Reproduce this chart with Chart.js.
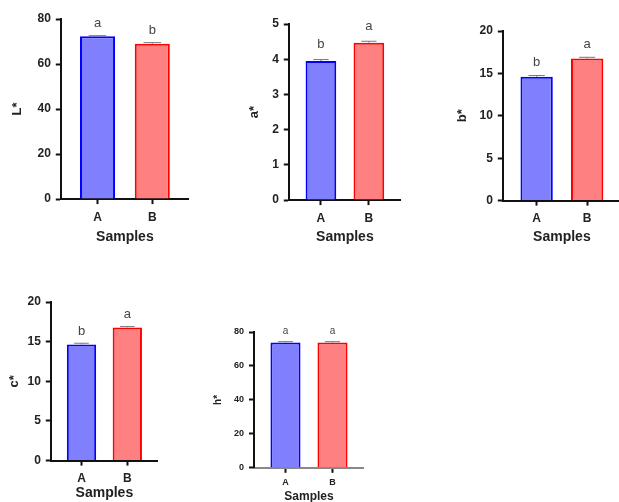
<!DOCTYPE html>
<html>
<head>
<meta charset="utf-8">
<script src="https://cdn.jsdelivr.net/npm/chart.js@4"></script>
<style>
  html, body { margin: 0; padding: 0; background: #fff; }
  body { width: 619px; height: 502px; position: relative; overflow: hidden; }
  canvas { position: absolute; }
</style>
</head>
<body>
<canvas id="cL"></canvas>
<canvas id="cA"></canvas>
<canvas id="cB"></canvas>
<canvas id="cC"></canvas>
<canvas id="cH"></canvas>
<script>
// categories
const samples = ['A', 'B'];

// means, error (small SD) and significance letters per parameter
const lValues = [72.3, 69.0];
const lErr = [0.3, 0.5];
const lSig = ['a', 'b'];

const aValues = [3.95, 4.47];
const aErr = [0.04, 0.04];
const aSig = ['b', 'a'];

const bValues = [14.6, 16.75];
const bErr = [0.15, 0.15];
const bSig = ['b', 'a'];

const cValues = [14.65, 16.8];
const cErr = [0.15, 0.1];
const cSig = ['b', 'a'];

const hValues = [73.8, 73.8];
const hErr = [0.5, 0.5];
const hSig = ['a', 'a'];

// y tick ranges: min, max, step
const lTicks = [0, 80, 20];
const aTicks = [0, 5, 1];
const bTicks = [0, 20, 5];
const cTicks = [0, 20, 5];
const hTicks = [0, 80, 20];

const FONT = "'Liberation Sans', Arial, sans-serif";

// error bars + letters drawn above each bar
const annotate = {
    id: 'annotate',
    afterDatasetsDraw(chart, args, opts) {
        const ctx = chart.ctx;
        const yScale = chart.scales.y;
        const meta = chart.getDatasetMeta(0);
        meta.data.forEach((bar, i) => {
            const top = yScale.getPixelForValue(opts.values[i] + opts.errors[i]);
            const half = bar.width * 0.25;
            ctx.save();
            ctx.strokeStyle = '#777';
            ctx.lineWidth = 1;
            ctx.beginPath();
            ctx.moveTo(bar.x, bar.y);
            ctx.lineTo(bar.x, top);
            ctx.moveTo(bar.x - half, top);
            ctx.lineTo(bar.x + half, top);
            ctx.stroke();
            ctx.fillStyle = '#444';
            ctx.font = opts.letterSize + 'px ' + FONT;
            ctx.textAlign = 'center';
            ctx.textBaseline = 'middle';
            ctx.fillText(opts.letters[i], bar.x, top - opts.gap);
            ctx.restore();
        });
    }
};

function makeChart(c) {
    const yLh = c.yTitleSize * 1.2;
    const xLh = c.xTitleSize * 1.2;
    const W = c.yTitleDist + yLh / 2;
    const H = c.xTitleDist + xLh / 2;
    const padT = 16;

    const canvas = document.getElementById(c.id);
    canvas.width = Math.round(W + (c.right - c.axisX));
    canvas.height = Math.round(padT + (c.bottom - c.top) + H);
    canvas.style.left = (c.axisX - W) + 'px';
    canvas.style.top = (c.top - padT) + 'px';

    new Chart(canvas.getContext('2d'), {
        type: 'bar',
        data: {
            datasets: [{
                data: samples.map((s, i) => ({ x: i, y: c.values[i] })),
                backgroundColor: ['#8080ff', '#ff8080'],
                borderColor: ['#0000ff', '#ff0000'],
                borderWidth: 2,
                barPercentage: 0.64,
                categoryPercentage: 1
            }]
        },
        options: {
            responsive: false,
            animation: false,
            devicePixelRatio: 1,
            layout: { padding: { top: padT, left: 0, right: 0, bottom: 0 } },
            plugins: {
                legend: { display: false },
                tooltip: { enabled: false },
                annotate: {
                    values: c.values,
                    errors: c.errors,
                    letters: c.letters,
                    letterSize: c.letterSize,
                    gap: c.gap
                }
            },
            scales: {
                x: {
                    type: 'linear',
                    offset: false,
                    min: -0.67,
                    max: 1.67,
                    afterBuildTicks: s => { s.ticks = samples.map((_, i) => ({ value: i })); },
                    afterFit: s => { s.height = H; },
                    ticks: {
                        callback: v => samples[v],
                        autoSkip: false,
                        maxRotation: 0,
                        padding: c.xPad,
                        color: '#222',
                        font: { family: FONT, size: c.tickSize, weight: 'bold' }
                    },
                    grid: { offset: false, drawOnChartArea: false, tickLength: 5, tickWidth: 2, tickColor: '#111' },
                    border: { color: c.xBorder || '#111', width: 2 },
                    title: {
                        display: true,
                        text: 'Samples',
                        padding: 0,
                        color: '#222',
                        font: { family: FONT, size: c.xTitleSize, weight: 'bold' }
                    }
                },
                y: {
                    min: c.ticks[0],
                    max: c.ticks[1],
                    afterFit: s => { s.width = W; },
                    ticks: {
                        stepSize: c.ticks[2],
                        padding: 5,
                        color: '#222',
                        font: { family: FONT, size: c.tickSize, weight: 'bold' }
                    },
                    grid: { drawOnChartArea: false, tickLength: 5, tickWidth: 2, tickColor: '#111' },
                    border: { color: '#111', width: 2 },
                    title: {
                        display: true,
                        text: c.yTitle,
                        padding: 0,
                        color: '#222',
                        font: { family: FONT, size: c.yTitleSize, weight: 'bold' }
                    }
                }
            }
        },
        plugins: [annotate]
    });
}

makeChart({ id: 'cL', axisX: 61, top: 19, bottom: 199.5, right: 189, yTitleDist: 43, xTitleDist: 38.5,
    values: lValues, errors: lErr, letters: lSig, ticks: lTicks, yTitle: 'L*',
    tickSize: 12, xTitleSize: 14, yTitleSize: 13, letterSize: 13, gap: 12, xPad: 6 });
makeChart({ id: 'cA', axisX: 289, top: 24, bottom: 200, right: 401, yTitleDist: 34, xTitleDist: 37.5,
    values: aValues, errors: aErr, letters: aSig, ticks: aTicks, yTitle: 'a*',
    tickSize: 12, xTitleSize: 14, yTitleSize: 13, letterSize: 13, gap: 15, xPad: 6 });
makeChart({ id: 'cB', axisX: 503, top: 31, bottom: 201, right: 621, yTitleDist: 40, xTitleDist: 37,
    values: bValues, errors: bErr, letters: bSig, ticks: bTicks, yTitle: 'b*',
    tickSize: 12, xTitleSize: 14, yTitleSize: 13, letterSize: 13, gap: 13, xPad: 6 });
makeChart({ id: 'cC', axisX: 51, top: 302, bottom: 460.7, right: 158, yTitleDist: 36, xTitleDist: 33,
    values: cValues, errors: cErr, letters: cSig, ticks: cTicks, yTitle: 'c*',
    tickSize: 12, xTitleSize: 14, yTitleSize: 13, letterSize: 13, gap: 12, xPad: 6 });
makeChart({ id: 'cH', axisX: 254, top: 332, bottom: 468, right: 364, yTitleDist: 36, xTitleDist: 29,
    values: hValues, errors: hErr, letters: hSig, ticks: hTicks, yTitle: 'h*',
    tickSize: 9, xTitleSize: 12, yTitleSize: 10, letterSize: 10, gap: 10, xPad: 4, xBorder: '#888' });
</script>
</body>
</html>
